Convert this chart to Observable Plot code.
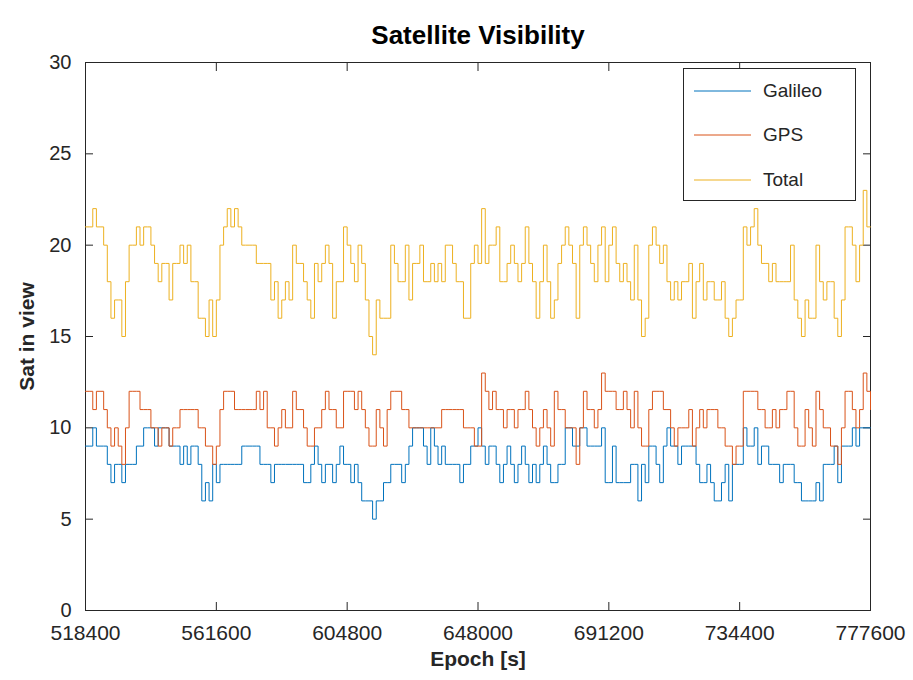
<!DOCTYPE html>
<html>
<head>
<meta charset="utf-8">
<script src="https://cdn.jsdelivr.net/npm/d3@7"></script>
<script src="https://cdn.jsdelivr.net/npm/@observablehq/plot@0.6"></script>
<style>
  body { margin: 0; background: #fff; }
  #wrap { position: relative; width: 913px; height: 680px; font-family: "Liberation Sans", Arial, sans-serif; }
  #legend { position: absolute; left: 683px; top: 68px; width: 173px; height: 133px; border: 1px solid #262626; background: #fff; box-sizing: border-box; }
  .row { position: absolute; left: 10px; height: 24px; display: flex; align-items: center; font-size: 19px; color: #262626; }
  .row svg { margin-right: 12px; }
</style>
</head>
<body>
<div id="wrap"></div>
<script>
const title = "Satellite Visibility";
const xLabel = "Epoch [s]";
const yLabel = "Sat in view";
const seriesNames = ["Galileo", "GPS", "Total"];
const seriesColors = ["#0072BD", "#D95319", "#EDB120"];
const epochStart = 518400;
const epochStep = 1200;
const xTicks = [518400, 561600, 604800, 648000, 691200, 734400, 777600];
const yTicks = [0, 5, 10, 15, 20, 25, 30];

const galileo = [
  9,9,10,9,9,9,8,7,8,8,7,8,8,8,9,9,10,10,10,9,10,10,10,9,9,9,8,9,8,
  9,9,8,6,7,6,8,7,8,8,8,8,8,8,9,9,9,9,9,8,8,8,7,8,8,8,8,8,
  8,8,8,7,7,8,9,8,7,8,8,7,8,9,8,8,7,8,7,6,6,6,5,6,6,7,7,
  8,8,8,7,8,9,10,10,10,9,8,10,9,8,9,8,8,8,8,7,8,8,9,9,10,9,8,9,
  9,8,7,8,9,8,7,8,9,8,7,8,7,8,9,8,7,7,8,8,10,10,9,9,10,10,9,
  9,9,9,10,7,7,9,7,7,7,7,8,8,6,8,7,9,9,8,7,9,10,9,9,8,9,9,9,
  9,8,7,7,8,7,6,6,7,8,6,8,8,8,10,9,9,10,8,9,9,8,
  8,8,7,8,8,8,7,7,6,6,6,6,7,6,8,8,8,9,7,9,9,9,10,9,10,10,10,10
];
const gps = [
  12,12,11,12,12,11,10,9,10,9,8,10,12,12,12,11,11,11,10,10,9,10,10,9,10,10,11,11,11,
  11,11,10,10,9,9,8,9,11,12,12,12,11,11,11,11,11,11,12,11,12,10,10,9,10,11,10,10,
  12,11,11,10,9,9,10,10,11,12,11,11,10,10,12,12,12,11,12,11,10,9,9,11,10,9,11,
  12,12,12,11,11,10,10,10,10,10,10,10,10,10,11,11,11,11,11,11,10,10,10,9,9,13,12,11,
  12,11,11,10,11,11,10,11,11,12,11,10,9,10,11,10,9,12,11,11,10,10,10,8,10,12,11,
  11,10,11,13,12,12,12,11,11,12,11,10,12,10,9,9,11,12,12,12,11,11,10,9,10,10,10,11,
  9,10,11,10,11,11,11,10,10,9,9,8,9,9,12,12,12,12,11,11,10,10,11,10,11,11,12,
  12,10,9,9,11,10,9,12,11,10,10,9,9,8,10,12,12,11,10,11,13,12,11
];
const total = [
  21,21,22,21,21,20,18,16,17,17,15,18,20,20,21,20,21,21,20,19,18,19,19,17,19,19,20,19,20,
  18,18,16,16,15,17,15,17,20,21,22,21,22,21,20,20,20,20,19,19,19,19,17,18,16,17,18,17,
  20,19,19,18,17,16,19,18,19,20,19,16,18,18,21,20,19,18,20,19,17,15,14,17,16,16,16,
  20,19,18,18,20,17,19,19,20,18,18,19,18,19,18,20,20,19,18,18,16,16,19,20,19,22,19,20,
  20,21,18,18,19,20,19,18,19,21,19,18,16,18,20,18,16,17,19,20,21,20,19,16,20,21,20,
  19,18,20,21,18,20,21,19,18,19,18,17,20,17,15,16,20,21,20,19,20,18,17,18,17,18,18,19,
  16,18,19,17,18,18,17,17,18,16,15,16,17,17,21,20,21,22,20,19,19,18,
  19,18,18,18,18,
  20,17,16,15,17,16,16,20,18,17,18,18,16,15,17,21,21,20,18,20,23,21,21
];

const seriesValues = [galileo, gps, total];
const rows = [];
seriesValues.forEach((vals, s) => {
  vals.forEach((v, i) => rows.push({series: seriesNames[s], epoch: epochStart + i * epochStep, value: v}));
});

const fontFamily = '"Liberation Sans", Arial, sans-serif';
const axisColor = "#262626";

const chart = Plot.plot({
  width: 913,
  height: 680,
  marginLeft: 85,
  marginRight: 43,
  marginTop: 62,
  marginBottom: 70,
  style: { fontFamily, fontSize: "20px", color: axisColor, background: "#fff" },
  x: { domain: [518400, 777600] },
  y: { domain: [0, 30] },
  color: { domain: seriesNames, range: seriesColors },
  marks: [
    Plot.frame({ stroke: axisColor, strokeWidth: 1 }),
    Plot.axisX({ ticks: xTicks, tickFormat: d => String(d), tickSize: -8, tickPadding: 23, label: null, fontSize: 21 }),
    Plot.axisX({ anchor: "top", ticks: xTicks, tickFormat: () => "", tickSize: -8, label: null }),
    Plot.axisY({ ticks: yTicks, tickFormat: d => String(d), tickSize: -8, tickPadding: 22, label: null, fontSize: 20 }),
    Plot.axisY({ anchor: "right", ticks: yTicks, tickFormat: () => "", tickSize: -8, label: null }),
    Plot.line(rows, { x: "epoch", y: "value", z: "series", stroke: "series", strokeWidth: 1, curve: "step-after" }),
    Plot.text([title], { frameAnchor: "top", dy: -37, fontSize: 26, fontWeight: "bold", fill: "#000" }),
    Plot.text([xLabel], { frameAnchor: "bottom", dy: 55, fontSize: 21, fontWeight: "bold", fill: axisColor }),
    Plot.text([yLabel], { frameAnchor: "left", dx: -58, rotate: -90, textAnchor: "middle", fontSize: 21, fontWeight: "bold", fill: axisColor })
  ]
});

const wrap = document.getElementById("wrap");
wrap.appendChild(chart);

const legend = document.createElement("div");
legend.id = "legend";
const rowTops = [10, 54, 99];
seriesNames.forEach((name, i) => {
  const r = document.createElement("div");
  r.className = "row";
  r.style.top = rowTops[i] + "px";
  r.innerHTML = `<svg width="57" height="4"><line x1="0" y1="2" x2="57" y2="2" stroke="${seriesColors[i]}" stroke-width="1"/></svg><span>${name}</span>`;
  legend.appendChild(r);
});
wrap.appendChild(legend);
</script>
</body>
</html>
